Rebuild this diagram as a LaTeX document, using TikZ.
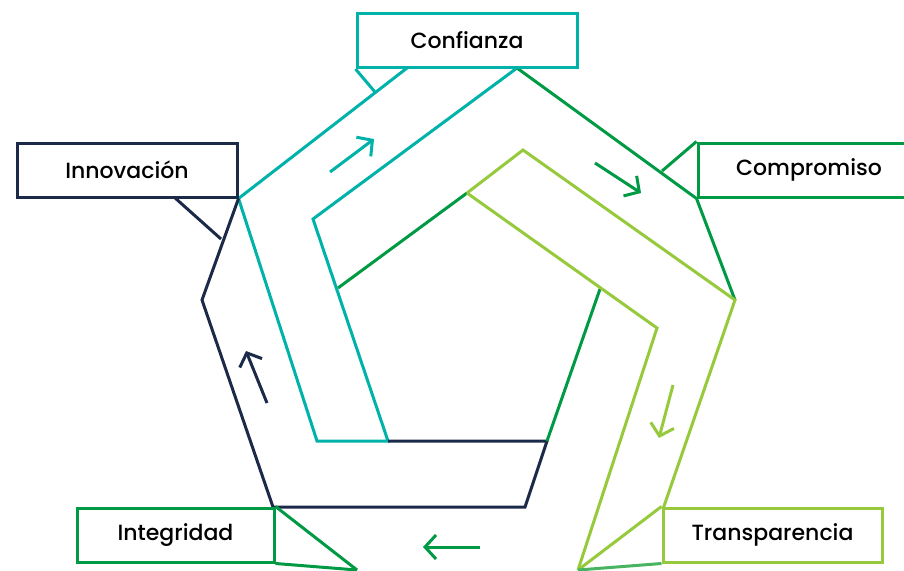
\documentclass[tikz,border=0pt]{standalone}
\usepackage{fontspec}
\setmainfont{Poppins}[UprightFont={* Medium}]
\usetikzlibrary{arrows.meta,calc}
\definecolor{cTeal}{RGB}{0,178,169}
\definecolor{cNavy}{RGB}{27,42,72}
\definecolor{cGreen}{RGB}{0,154,68}
\definecolor{cLime}{RGB}{151,201,61}
\definecolor{cMid}{RGB}{72,180,98}
\begin{document}
\begin{tikzpicture}[x=1pt,y=-1pt,line width=3pt,line join=miter,
  label box/.style={draw,fill=white,minimum width=#1,minimum height=54pt,
    inner sep=0pt,font=\fontsize{22}{26}\selectfont,text=black},
  flow arrow/.style={-{Straight Barb[length=11pt,width=24pt]}}]
\clip (0,0) rectangle (904,570);

% value boxes
\node[label box=220pt,draw=cTeal]  (conf)   at (467,40.5) {Confianza};
\node[label box=220pt,draw=cNavy]  (innov)  at (127,170)  {Innovación};
\node[label box=222pt,draw=cGreen] (comp)   at (809,170)  {Compromiso};
\node[label box=197pt,draw=cGreen] (integ)  at (175.5,535) {Integridad};
\node[label box=219pt,draw=cLime]  (transp) at (772.5,535) {Transparencia};

% corners of the folded band
\coordinate (tOut)  at (407,68);
\coordinate (tIn)   at (517,68);
\coordinate (tBend) at (313,219);
\coordinate (tBotL) at (317,441);
\coordinate (tBotR) at (388,441);
\coordinate (nLeft) at (202,300);
\coordinate (nBotL) at (273,507);
\coordinate (nBotR) at (525,507);
\coordinate (nUp)   at (547,441);
\coordinate (gTop)  at (467,193);
\coordinate (gIn)   at (338,288);
\coordinate (gRt)   at (735,300);
\coordinate (gLow)  at (600,289);
\coordinate (lTop)  at (523,150);
\coordinate (lBend) at (657,328);
\coordinate (lOut)  at (663,509);
\coordinate (lTip)  at (578,570);
\coordinate (iTip)  at (357,570);

% teal strand
\draw[cTeal] (conf.south west) -- (375,92);
\draw[cTeal] (tOut) -- (innov.south east) -- (tBotL) -- (tBotR) -- (tBend) -- (tIn);

% navy strand
\draw[cNavy] (174,197) -- (221,239);
\draw[cNavy] (innov.south east) -- (nLeft) -- (nBotL) -- (nBotR) -- (nUp) -- (tBotR);

% green strand
\draw[cGreen] (tIn) -- (comp.south west) -- (gRt);
\draw[cGreen] (comp.north west) -- (662,171);
\draw[cGreen] (gIn) -- (gTop);
\draw[cGreen] (gLow) -- (nUp);
\draw[cGreen] (integ.north east) -- (iTip);
\draw[cGreen] (integ.south east) -- (iTip);

% lime strand
\draw[cLime] (gTop) -- (lTop) -- (gRt) -- (lOut);
\draw[cLime] (gTop) -- (lBend) -- (lTip);
\draw[cLime] (transp.north west) -- (lTip);
\draw[cMid] (transp.south west) -- (lTip);

% direction arrows
\draw[cTeal,flow arrow]  (330,172) -- (374,139);
\draw[cGreen,flow arrow] (595,163) -- (641,193);
\draw[cLime,flow arrow]  (673,385) -- (659,438);
\draw[cGreen,flow arrow] (480,547) -- (423,547);
\draw[cNavy,flow arrow]  (267,403) -- (246,351);

% redraw boxes on top of the strands
\node[label box=220pt,draw=cTeal]  at (conf)   {Confianza};
\node[label box=220pt,draw=cNavy]  at (innov)  {Innovación};
\node[label box=222pt,draw=cGreen] at (comp)   {Compromiso};
\node[label box=197pt,draw=cGreen] at (integ)  {Integridad};
\node[label box=219pt,draw=cLime]  at (transp) {Transparencia};
\end{tikzpicture}
\end{document}
